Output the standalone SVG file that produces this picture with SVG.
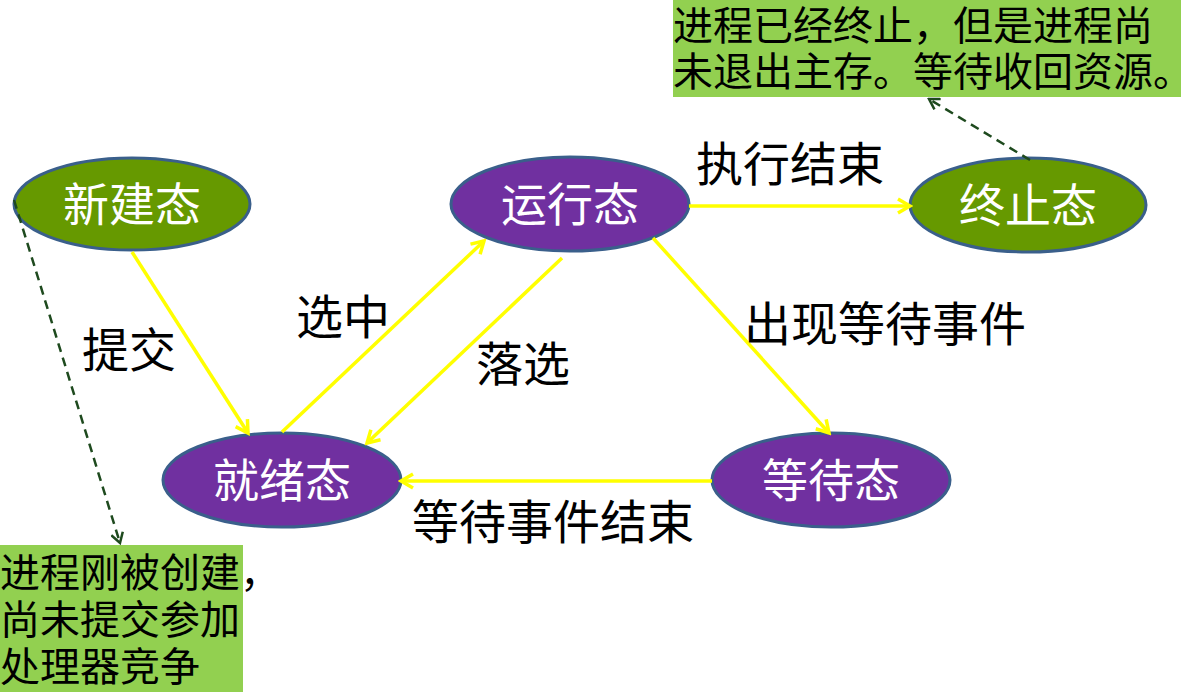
<svg xmlns="http://www.w3.org/2000/svg" width="1197" height="692" viewBox="0 0 1197 692">
<style>
text{font-family:"Noto Sans CJK SC","Noto Sans",sans-serif;}
.green{fill:#669900;stroke:#3A5F8B;stroke-width:3;}
.purple{fill:#7030A0;stroke:#3A5F8B;stroke-width:3;}
.nt{fill:#FFFFFF;font-size:46px;text-anchor:middle;}
.lbl{fill:#000000;font-size:47px;}
.note{fill:#000000;font-size:40px;}
.yl{stroke:#FFFF00;stroke-width:3.5;fill:none;marker-end:url(#ya);}
.dl{stroke:#1E4A1E;stroke-width:2.5;fill:none;stroke-dasharray:9,6;marker-end:url(#da);}
</style>
<defs>
<marker id="ya" markerUnits="userSpaceOnUse" markerWidth="18" markerHeight="18" refX="15" refY="9" orient="auto">
<path d="M3,2 L15,9 L3,16" fill="none" stroke="#FFFF00" stroke-width="3.5"/>
</marker>
<marker id="da" markerUnits="userSpaceOnUse" markerWidth="14" markerHeight="14" refX="12" refY="7" orient="auto">
<path d="M2,1 L12,7 L2,13" fill="none" stroke="#1E4A1E" stroke-width="2.5"/>
</marker>
</defs>
<rect width="1197" height="692" fill="#FFFFFF"/>

<g id="note-terminate">
<rect x="673" y="0" width="508" height="97" fill="#92D050"/>
<text class="note" x="673" y="40">进程已经终止，但是进程尚</text>
<text class="note" x="673" y="86">未退出主存。等待收回资源。</text>
</g>
<g id="note-new">
<rect x="0" y="545" width="243" height="147" fill="#92D050"/>
<text class="note" x="0" y="587">进程刚被创建，</text>
<text class="note" x="0" y="634">尚未提交参加</text>
<text class="note" x="0" y="681">处理器竞争</text>
</g>

<g id="node-new">
<ellipse class="green" cx="132" cy="204" rx="118" ry="46"/>
<text class="nt" x="132" y="221">新建态</text>
</g>
<g id="node-running">
<ellipse class="purple" cx="570" cy="204" rx="119" ry="47"/>
<text class="nt" x="570" y="221">运行态</text>
</g>
<g id="node-terminated">
<ellipse class="green" cx="1028" cy="205" rx="118" ry="47"/>
<text class="nt" x="1028" y="222">终止态</text>
</g>
<g id="node-ready">
<ellipse class="purple" cx="282" cy="480" rx="119" ry="47"/>
<text class="nt" x="282" y="497">就绪态</text>
</g>
<g id="node-waiting">
<ellipse class="purple" cx="831" cy="480" rx="119" ry="47"/>
<text class="nt" x="831" y="497">等待态</text>
</g>

<g id="connectors">
<line class="yl" x1="132" y1="252" x2="248" y2="433"/>
<line class="yl" x1="282" y1="432" x2="484" y2="241"/>
<line class="yl" x1="562" y1="258" x2="367" y2="443"/>
<line class="yl" x1="689" y1="206" x2="910" y2="206"/>
<line class="yl" x1="653" y1="238" x2="829" y2="433"/>
<line class="yl" x1="712" y1="481" x2="401" y2="481"/>
<line class="dl" x1="14" y1="200" x2="120" y2="543"/>
<line class="dl" x1="1030" y1="160" x2="929" y2="99"/>
</g>

<g id="labels">
<text class="lbl" x="696" y="181">执行结束</text>
<text class="lbl" x="82" y="367">提交</text>
<text class="lbl" x="296" y="334">选中</text>
<text class="lbl" x="476" y="381">落选</text>
<text class="lbl" x="744" y="341">出现等待事件</text>
<text class="lbl" x="412" y="539">等待事件结束</text>
</g>
</svg>
